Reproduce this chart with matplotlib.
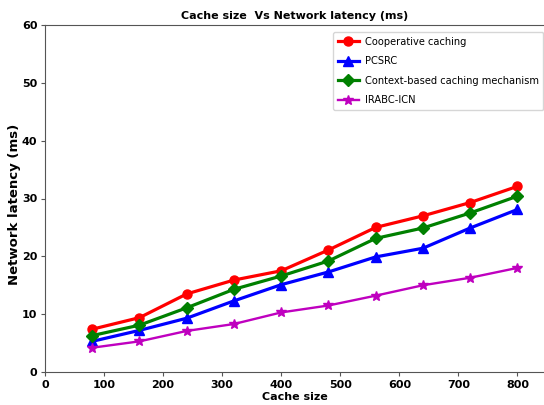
import matplotlib
matplotlib.use("Agg")
import matplotlib.pyplot as plt

## data
cache_size = [80, 160, 240, 320, 400, 480, 560, 640, 720, 800]
cooperative = [7.4, 9.4, 13.5, 15.9, 17.5, 21.1, 25.0, 27.0, 29.3, 32.1]
pcsrc = [5.3, 7.2, 9.3, 12.3, 15.1, 17.3, 19.9, 21.4, 24.9, 28.1]
context_based = [6.3, 8.1, 11.1, 14.3, 16.6, 19.2, 23.1, 24.9, 27.5, 30.4]
irabc_icn = [4.2, 5.3, 7.1, 8.3, 10.3, 11.5, 13.2, 15.0, 16.3, 18.0]

plt.rcParams['font.family'] = ['DejaVu Sans']

fig = plt.figure(figsize=(5.44, 4.05), dpi=100)
# axes run off the right edge of the picture, as in the reference
ax = fig.add_axes([45/544, 1 - 372/405, 1 - 45/544, (372 - 25)/405])

ax.plot(cache_size, cooperative, color='red', marker='o', markersize=6.5, linewidth=2.3, label='Cooperative caching')
ax.plot(cache_size, pcsrc, color='blue', marker='^', markersize=6.5, linewidth=2.3, label='PCSRC')
ax.plot(cache_size, context_based, color='green', marker='D', markersize=6, linewidth=2.3, label='Context-based caching mechanism')
ax.plot(cache_size, irabc_icn, color='m', marker='*', markersize=7, linewidth=1.7, label='IRABC-ICN')

ax.set_xlim(0, 845)
ax.set_ylim(0, 60)
ax.set_xticks(range(0, 801, 100))
ax.set_yticks(range(0, 61, 10))
ax.spines['right'].set_visible(False)
for side in ['left', 'bottom', 'top']:
    ax.spines[side].set_color('#555555')
ax.tick_params(labelsize=8, pad=2.5, length=3, color='#555555')
for lbl in ax.get_xticklabels() + ax.get_yticklabels():
    lbl.set_fontweight('bold')

ax.set_title('Cache size  Vs Network latency (ms)', fontsize=8, fontweight='bold', pad=4)
ax.set_xlabel('Cache size', fontsize=8, fontweight='bold', labelpad=2)
ax.set_ylabel('Network latency (ms)', fontsize=9.5, fontweight='bold')
ax.yaxis.set_label_coords(-0.048, 0.484)

fig.legend(loc='upper left', bbox_to_anchor=(333/544, 1 - 32/405), fontsize=7.1,
           handlelength=2.1, handletextpad=0.6, labelspacing=0.95, borderpad=0.5,
           borderaxespad=0)

fig.savefig('out.png', dpi=100)
